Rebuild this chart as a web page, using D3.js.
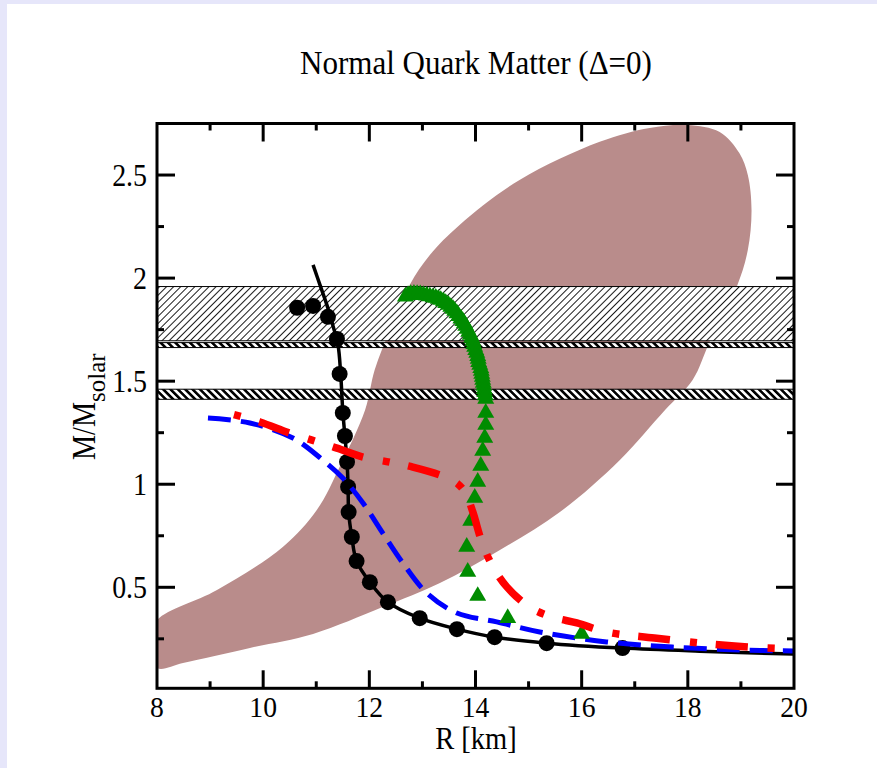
<!DOCTYPE html>
<html>
<head>
<meta charset="utf-8">
<script src="https://cdn.jsdelivr.net/npm/d3@7"></script>
<style>
  html, body { margin: 0; padding: 0; background: #e6e6fa; }
  svg { display: block; }
</style>
</head>
<body>
<svg id="chart" width="877" height="768"></svg>
<script>
// ---- axes ----
const xMajorTicks = [8, 10, 12, 14, 16, 18, 20];
const xMinorTicks = [9, 11, 13, 15, 17, 19];
const yMajorTicks = [0.5, 1, 1.5, 2, 2.5];
const yMinorTicks = [0.25, 0.75, 1.25, 1.75, 2.25];
const yTickLabels = ["0.5", "1", "1.5", "2", "2.5"];

// ---- observational constraint region (closed contour, R in km, M in solar masses) ----
const regionR = [8.00, 8.49, 9.75, 10.94, 12.25, 13.33, 14.46, 15.59, 16.72, 17.57, 18.09, 18.41,
                 18.92, 19.13, 19.20, 19.13, 18.97, 18.60, 17.99, 17.28, 16.34, 14.83, 13.70, 13.14,
                 12.76, 12.39, 12.10, 11.92, 11.44, 11.01, 10.37, 9.13, 8.00, 7.80];
const regionM = [0.108, 0.133, 0.206, 0.274, 0.404, 0.521, 0.681, 0.865, 1.118, 1.360, 1.506, 1.690,
                 1.957, 2.136, 2.330, 2.500, 2.607, 2.709, 2.743, 2.728, 2.661, 2.476, 2.258, 2.112,
                 1.967, 1.749, 1.554, 1.360, 1.084, 0.875, 0.696, 0.487, 0.341, 0.220];

// ---- mass bands (lower, upper) ----
const bandLow  = [1.696, 1.663, 1.412];
const bandHigh = [1.959, 1.687, 1.461];
const bandKind = ["thin", "bold", "bold"];

// ---- black curve with circle markers ----
const blackR = [10.94, 11.07, 11.20, 11.31, 11.41, 11.46, 11.50, 11.54, 11.58, 11.60, 11.61, 11.67,
                11.76, 12.01, 12.35, 12.95, 13.65, 14.36, 15.34, 16.77, 18.22, 19.99];
const blackM = [2.064, 1.967, 1.870, 1.773, 1.676, 1.535, 1.355, 1.234, 1.108, 0.987, 0.865, 0.744,
                0.627, 0.525, 0.428, 0.350, 0.297, 0.258, 0.229, 0.205, 0.190, 0.176];
const circleR = [10.64, 10.94, 11.22, 11.39, 11.44, 11.50, 11.54, 11.58, 11.60, 11.61, 11.67, 11.76,
                 12.01, 12.35, 12.95, 13.65, 14.36, 15.34, 16.77];
const circleM = [1.856, 1.865, 1.812, 1.705, 1.535, 1.346, 1.234, 1.108, 0.987, 0.865, 0.744, 0.627,
                 0.525, 0.428, 0.350, 0.297, 0.258, 0.229, 0.205];

// ---- blue dashed curve ----
const blueR = [8.96, 9.75, 10.56, 11.12, 11.50, 11.88, 12.25, 12.63, 13.08, 13.65, 14.40, 15.21,
               16.47, 17.71, 18.97, 19.99];
const blueM = [1.321, 1.297, 1.224, 1.118, 1.030, 0.909, 0.764, 0.618, 0.473, 0.375, 0.332, 0.283,
               0.235, 0.210, 0.196, 0.191];

// ---- red dash-dot curve ----
const redR = [9.45, 9.94, 10.50, 10.92, 11.39, 11.88, 12.39, 12.82, 13.38, 13.67, 13.82, 13.95,
              14.12, 14.31, 14.59, 15.02, 15.44, 15.91, 16.47, 17.37, 18.41, 19.44, 19.99];
const redM = [1.338, 1.302, 1.248, 1.214, 1.175, 1.132, 1.107, 1.083, 1.040, 1.001, 0.953, 0.865,
              0.720, 0.608, 0.502, 0.404, 0.356, 0.327, 0.283, 0.254, 0.225, 0.206, 0.201];

// ---- green triangle sequence ----
const greenR = [12.680, 12.730, 12.780, 12.840, 12.900, 12.960, 13.020, 13.080, 13.140, 13.200,
                13.252, 13.300, 13.346, 13.395, 13.440, 13.490, 13.534, 13.575, 13.609, 13.650,
                13.685, 13.725, 13.760, 13.790, 13.816, 13.845, 13.873, 13.900, 13.929, 13.950,
                13.967, 13.985, 14.005, 14.025, 14.042, 14.052, 14.061, 14.080, 14.099, 14.110,
                14.118, 14.128, 14.136, 14.146, 14.155, 14.165, 14.174, 14.184, 14.193,
                14.193, 14.193, 14.174, 14.136, 14.099, 14.042, 13.986, 13.911, 13.835, 13.854,
                14.042, 14.607, 16.000];
const greenM = [1.910, 1.918, 1.922, 1.924, 1.923, 1.921, 1.918, 1.915, 1.912, 1.907,
                1.904, 1.899, 1.894, 1.887, 1.879, 1.870, 1.860, 1.851, 1.841, 1.829,
                1.816, 1.804, 1.792, 1.780, 1.768, 1.754, 1.739, 1.725, 1.710, 1.695,
                1.680, 1.666, 1.651, 1.637, 1.622, 1.608, 1.593, 1.579, 1.564, 1.550,
                1.535, 1.521, 1.506, 1.492, 1.477, 1.462, 1.447, 1.431, 1.414,
                1.346, 1.288, 1.225, 1.162, 1.089, 1.012, 0.934, 0.822, 0.696, 0.575,
                0.458, 0.351, 0.274];

const zip = (a, b) => a.map((v, i) => [v, b[i]]);
const SERIF = "'Liberation Serif', 'Times New Roman', Times, 'Nimbus Roman', 'DejaVu Serif', serif";

const svg = d3.select("#chart");
svg.append("rect").attr("x", 7).attr("y", 4).attr("width", 870).attr("height", 764).attr("fill", "#fff");

const x = d3.scaleLinear().domain([8, 20]).range([157, 794]);
const y = d3.scaleLinear().domain([0.01, 2.75]).range([688.3, 123.5]);
const [x0, x1] = x.range();
const yTop = y(2.75), yBot = y(0.01);

const defs = svg.append("defs");
defs.append("clipPath").attr("id", "plotClip")
  .append("rect").attr("x", x0).attr("y", yTop).attr("width", x1 - x0).attr("height", yBot - yTop);

const thin = defs.append("pattern").attr("id", "hatchThin").attr("patternUnits", "userSpaceOnUse")
  .attr("width", 5).attr("height", 10).attr("patternTransform", "rotate(45)");
thin.append("rect").attr("width", 5).attr("height", 10).attr("fill", "#fff");
thin.append("line").attr("x1", 0.5).attr("x2", 0.5).attr("y1", 0).attr("y2", 10)
  .attr("stroke", "#000").attr("stroke-width", 0.9);

const bold = defs.append("pattern").attr("id", "hatchBold").attr("patternUnits", "userSpaceOnUse")
  .attr("width", 5.2).attr("height", 10).attr("patternTransform", "rotate(-45)");
bold.append("rect").attr("width", 5.2).attr("height", 10).attr("fill", "#fff");
bold.append("rect").attr("x", 0).attr("width", 2.6).attr("height", 10).attr("fill", "#000");

const plot = svg.append("g").attr("clip-path", "url(#plotClip)");

// constraint region
plot.append("path")
  .datum(zip(regionR, regionM))
  .attr("d", d3.line().x(d => x(d[0])).y(d => y(d[1])).curve(d3.curveCatmullRomClosed.alpha(0.5)))
  .attr("fill", "#b98c8b");

// mass bands
bandLow.forEach((lo, i) => {
  plot.append("rect")
    .attr("x", x0).attr("width", x1 - x0)
    .attr("y", y(bandHigh[i])).attr("height", y(lo) - y(bandHigh[i]))
    .attr("fill", bandKind[i] === "thin" ? "url(#hatchThin)" : "url(#hatchBold)")
    .attr("stroke", "#000").attr("stroke-width", 1);
});

const line = d3.line().x(d => x(d[0])).y(d => y(d[1])).curve(d3.curveCatmullRom.alpha(0.5));

// black curve and circles
plot.append("path").datum(zip(blackR, blackM)).attr("d", line)
  .attr("fill", "none").attr("stroke", "#000").attr("stroke-width", 3.5);
plot.selectAll("circle.bk").data(zip(circleR, circleM)).join("circle")
  .attr("class", "bk").attr("cx", d => x(d[0])).attr("cy", d => y(d[1])).attr("r", 8)
  .attr("fill", "#000");

// blue dashed
plot.append("path").datum(zip(blueR, blueM)).attr("d", line)
  .attr("fill", "none").attr("stroke", "#0000ff").attr("stroke-width", 5)
  .attr("stroke-dasharray", "23,10");

// green triangles
const tri = d3.symbol().type(d3.symbolTriangle).size(125);
plot.selectAll("path.tri").data(zip(greenR, greenM)).join("path")
  .attr("class", "tri").attr("d", tri)
  .attr("transform", d => `translate(${x(d[0])},${y(d[1])})`)
  .attr("fill", "#008c00");

// red dash-dot
plot.append("path").datum(zip(redR, redM)).attr("d", line)
  .attr("fill", "none").attr("stroke", "#ff0000").attr("stroke-width", 7.5)
  .attr("stroke-dasharray", "7,19,32,20");

// frame
svg.append("rect").attr("x", x0).attr("y", yTop).attr("width", x1 - x0).attr("height", yBot - yTop)
  .attr("fill", "none").attr("stroke", "#000").attr("stroke-width", 3);

// ticks on all four sides, pointing inward
const ticks = svg.append("g").attr("stroke", "#000").attr("stroke-width", 3);
const xt = (vals, len) => vals.forEach(v => {
  ticks.append("line").attr("x1", x(v)).attr("x2", x(v)).attr("y1", yBot).attr("y2", yBot - len);
  ticks.append("line").attr("x1", x(v)).attr("x2", x(v)).attr("y1", yTop).attr("y2", yTop + len);
});
const yt = (vals, len) => vals.forEach(v => {
  ticks.append("line").attr("y1", y(v)).attr("y2", y(v)).attr("x1", x0).attr("x2", x0 + len);
  ticks.append("line").attr("y1", y(v)).attr("y2", y(v)).attr("x1", x1).attr("x2", x1 - len);
});
xt(xMajorTicks.slice(1, -1), 18); xt(xMinorTicks, 7);
yt(yMajorTicks, 18); yt(yMinorTicks, 7);

// narrow serif lettering
function condense(sel, f) {
  sel.each(function () {
    const w = this.getComputedTextLength();
    d3.select(this).attr("textLength", w * f).attr("lengthAdjust", "spacingAndGlyphs");
  });
}

const txt = (g) => g.append("text").attr("font-family", SERIF).attr("fill", "#000");

const xl = svg.append("g").attr("font-family", SERIF).selectAll("text").data(xMajorTicks).join("text")
  .attr("x", d => x(d)).attr("y", 717).attr("text-anchor", "middle")
  .attr("font-size", 30).text(d => d);
condense(xl, 0.92);

const yl = svg.append("g").attr("font-family", SERIF).selectAll("text").data(yMajorTicks).join("text")
  .attr("x", 147).attr("y", d => y(d) + 10.5).attr("text-anchor", "end")
  .attr("font-size", 31).text((d, i) => yTickLabels[i]);
condense(yl, 0.9);

const title = txt(svg).attr("x", 476).attr("y", 74).attr("text-anchor", "middle")
  .attr("font-size", 33).text("Normal Quark Matter (Δ=0)");
condense(title, 0.94);

const xLab = txt(svg).attr("x", 476).attr("y", 749).attr("text-anchor", "middle")
  .attr("font-size", 31).text("R [km]");
condense(xLab, 0.92);

const yLab = svg.append("g").attr("transform", "translate(95,460) rotate(-90)");
const ym = txt(yLab).attr("x", 0).attr("y", 0).attr("font-size", 34).text("M/M");
condense(ym, 0.83);
const ys = txt(yLab).attr("x", 58).attr("y", 10).attr("font-size", 26).text("solar");
condense(ys, 0.96);
</script>
</body>
</html>
